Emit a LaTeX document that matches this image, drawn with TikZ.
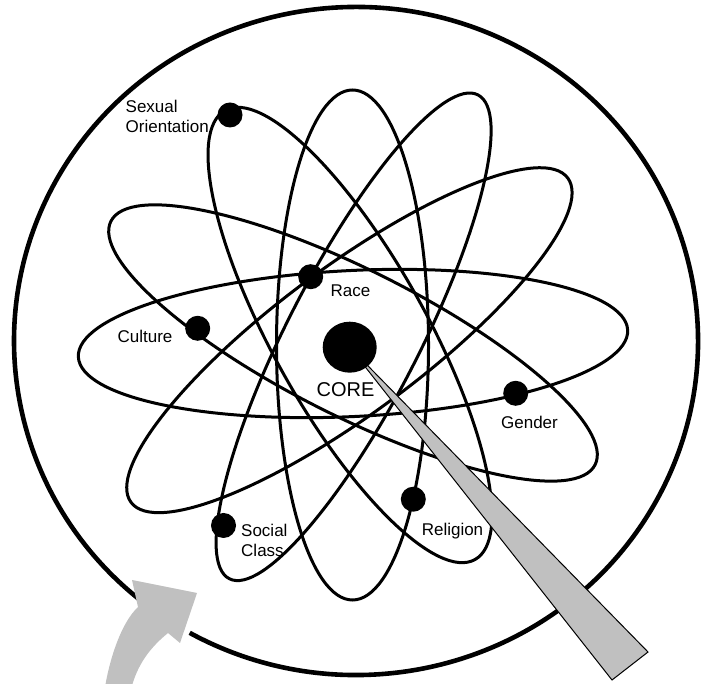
\documentclass[tikz,border=0pt]{standalone}
\usepackage{fontspec}
\setmainfont{Liberation Sans}
\usetikzlibrary{shapes.geometric}
\definecolor{needlegray}{RGB}{192,192,192}
\tikzset{
  orbit/.style={draw=black, line width=3pt},
  electron/.style={circle, fill=black, minimum size=25pt, inner sep=0pt},
  lbl/.style={font=\fontsize{17pt}{20pt}\selectfont, inner sep=0pt, text=black},
  ring/.style={draw=black, line width=4.6pt},
  graypart/.style={fill=needlegray}
}
\begin{document}
\begin{tikzpicture}[x=1pt,y=1pt]
\clip (0,0) rectangle (703,684);
\fill[white] (0,0) rectangle (703,684);

% orbits
\draw[orbit, rotate around={2.8:(353,340.5)}] (353,340.5) ellipse [x radius=275pt, y radius=73pt];
\draw[orbit, rotate around={-26.7:(353,341)}] (353,341) ellipse [x radius=271pt, y radius=73pt];
\draw[orbit, rotate around={36.6:(349.4,343.8)}] (349.4,343.8) ellipse [x radius=272pt, y radius=73pt];
\draw[orbit, rotate around={119.1:(350,349)}] (350,349) ellipse [x radius=257pt, y radius=77pt];
\draw[orbit, rotate around={62.8:(353.6,347.2)}] (353.6,347.2) ellipse [x radius=272pt, y radius=66pt];
\draw[orbit, rotate around={90:(352.5,339)}] (352.5,339) ellipse [x radius=255pt, y radius=76pt];

% outer ring with gap
\draw[ring] ([shift={(356,343)}]240.9:342pt and 334pt) arc [start angle=240.9, end angle=591.5, x radius=342pt, y radius=334pt];

% curved gray arrow
\fill[graypart] (104,-10) .. controls (108,20) and (120,60) .. (138,77) -- (132,104) -- (197,91) -- (180,41) -- (168,51) .. controls (152,38) and (136,20) .. (130,-10) -- cycle;

% needle
\coordinate (corec) at (349.7,336.8);
\coordinate (nb1) at (648,32);
\coordinate (nb2) at (612,4);
\filldraw[graypart, draw=black, line width=1pt] (corec) -- (nb1) -- (nb2) -- cycle;

% core
\node[ellipse, fill=black, minimum width=54pt, minimum height=51pt, inner sep=0pt] (core) at (corec) {};

% electrons
\node[electron] (so) at (230,569) {};
\node[electron] (race) at (310.7,407.3) {};
\node[electron] (culture) at (197.7,355.7) {};
\node[electron] (gender) at (515.7,290.7) {};
\node[electron] (religion) at (413.3,184.8) {};
\node[electron] (social) at (223.5,158.5) {};

% labels
\node[lbl, anchor=base west] (solbl) at (125.5,551) {\begin{tabular}[b]{@{}l@{}}Sexual\\Orientation\end{tabular}};
\node[lbl, anchor=base] (racelbl) at (350.5,387) {Race};
\node[lbl, anchor=base, font=\fontsize{20pt}{24pt}\selectfont] (corelbl) at (345.5,287) {CORE};
\node[lbl, anchor=base] (culturelbl) at (145,341) {Culture};
\node[lbl, anchor=base] (genderlbl) at (529.5,255) {Gender};
\node[lbl, anchor=base] (religionlbl) at (452.5,148) {Religion};
\node[lbl, anchor=base west] (sclbl) at (241,127.5) {\begin{tabular}[b]{@{}l@{}}Social\\Class\end{tabular}};
\end{tikzpicture}
\end{document}
